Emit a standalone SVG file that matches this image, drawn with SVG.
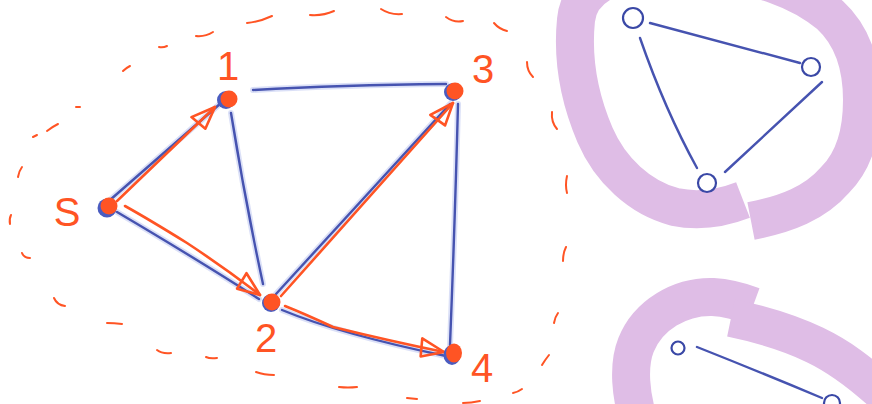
<svg xmlns="http://www.w3.org/2000/svg" width="872" height="404" viewBox="0 0 872 404">
  <style>
    .bg { fill: #ffffff; }
    .halo { fill: none; stroke: #c3cbf2; stroke-width: 6; stroke-linecap: round; opacity: 0.6; }
    .edge { fill: none; stroke: #4653b0; stroke-width: 2.4; stroke-linecap: round; }
    .arrow { fill: none; stroke: #ff5424; stroke-width: 2.6; stroke-linecap: round; stroke-linejoin: round; marker-end: url(#head); }
    .dash { fill: none; stroke: #ff5424; stroke-width: 2; stroke-linecap: round; }
    .dot { fill: #ff5424; }
    .dotrim { fill: #4a5cc0; }
    .lbl { font-family: "Liberation Sans", Arial, sans-serif; font-size: 40px; fill: #ff5424; text-anchor: middle; }
    .ring { fill: none; stroke: #dfbde6; stroke-width: 38; stroke-linecap: butt; }
    .hollow { fill: #ffffff; stroke: #3a48a6; stroke-width: 2.2; }
  </style>
  <defs>
    <marker id="head" markerUnits="userSpaceOnUse" viewBox="-30 -15 34 30" markerWidth="34" markerHeight="30" refX="0" refY="0" orient="auto">
      <path d="M0,0 L-24,-9 L-22,9 Z" fill="none" stroke="#ff5424" stroke-width="2.6" stroke-linejoin="round"/>
    </marker>
  </defs>
  <rect class="bg" x="0" y="0" width="872" height="404"/>

  <!-- dashed ellipse boundary -->
  <g id="boundary">
    <path class="dash" d="M10,224 Q9,219 11,215"/>
    <path class="dash" d="M18,177 Q19,171 22,167"/>
    <path class="dash" d="M33,137 L37,135"/>
    <path class="dash" d="M47,131 Q52,127 58,124"/>
    <path class="dash" d="M76,107 L80,107"/>
    <path class="dash" d="M123,71 Q126,68 130,66"/>
    <path class="dash" d="M159,47 Q163,48 167,46"/>
    <path class="dash" d="M196,36 Q205,37 213,32"/>
    <path class="dash" d="M247,23 Q259,22 272,16"/>
    <path class="dash" d="M310,15 Q323,16 334,11"/>
    <path class="dash" d="M381,9 Q390,15 402,14"/>
    <path class="dash" d="M446,17 Q454,23 463,21"/>
    <path class="dash" d="M494,23 Q499,29 507,31"/>
    <path class="dash" d="M527,62 Q527,71 533,77"/>
    <path class="dash" d="M552,112 Q551,122 557,129"/>
    <path class="dash" d="M567,176 Q565,185 567,193"/>
    <path class="dash" d="M566,247 Q563,253 563,261"/>
    <path class="dash" d="M558,313 Q555,317 554,323"/>
    <path class="dash" d="M549,355 Q545,360 542,365"/>
    <path class="dash" d="M522,389 Q518,392 513,393"/>
    <path class="dash" d="M480,401 Q471,403 463,403"/>
    <path class="dash" d="M417,399 L407,398"/>
    <path class="dash" d="M357,387 Q348,388 339,387"/>
    <path class="dash" d="M274,375 Q264,375 256,372"/>
    <path class="dash" d="M217,358 Q210,359 206,357"/>
    <path class="dash" d="M171,353 Q162,354 157,350"/>
    <path class="dash" d="M122,324 Q114,323 107,323"/>
    <path class="dash" d="M65,306 Q57,305 54,298"/>
    <path class="dash" d="M30,258 Q24,258 22,253"/>
  </g>

  <!-- purple clusters (drawn directly) -->
  <g id="clusters">
    <path class="ring" d="M743,200 C725,207 700,212 675,207 C640,198 610,170 595,135 C580,100 572,60 576,20 C580,-25 640,-35 700,-30 C760,-25 800,-10 830,15 C855,38 862,70 862,100 C862,140 850,165 835,180 C815,203 787,214 751,221"/>
    <path class="ring" d="M640,425 C630,395 628,365 636,345 C648,315 680,296 713,297 C730,298 742,302 753,306"/>
    <path class="ring" d="M731,318 C760,324 790,333 815,345 C840,357 860,372 885,395"/>
  </g>

  <!-- connectors -->
  <g id="connectors">
    <path class="halo" d="M253,90 Q340,85 446,84"/>
    <path class="edge" d="M253,90 Q340,85 446,84"/>
    <path class="halo" d="M231,113 Q245,200 263,284"/>
    <path class="edge" d="M231,113 Q245,200 263,284"/>
    <path class="halo" d="M110,200 L221,103"/>
    <path class="edge" d="M110,200 L221,103"/>
    <path class="halo" d="M117,212 Q195,258 259,299"/>
    <path class="edge" d="M117,212 Q195,258 259,299"/>
    <path class="halo" d="M276,294 L450,104"/>
    <path class="edge" d="M276,294 L450,104"/>
    <path class="halo" d="M458,104 Q455,220 450,345"/>
    <path class="edge" d="M458,104 Q455,220 450,345"/>
    <path class="halo" d="M282,310 Q340,334 446,356"/>
    <path class="edge" d="M282,310 Q340,334 446,356"/>

    <path class="arrow" d="M117,201 L215,107"/>
    <path class="arrow" d="M125,206 Q150,220 187,243 Q225,268 260,295"/>
    <path class="arrow" d="M281,296 L453,103"/>
    <path class="arrow" d="M285,306 Q305,314 333,327 Q390,341 444,352"/>

    <path class="edge" d="M650,23 Q745,48 800,63"/>
    <path class="edge" d="M640,38 Q665,110 697,168"/>
    <path class="edge" d="M822,82 L725,172"/>
    <path class="edge" d="M697,347 Q760,372 822,398"/>
  </g>

  <!-- main graph nodes -->
  <g id="node-s">
    <circle class="dotrim" cx="107" cy="208" r="9.5"/>
    <circle class="dot" cx="109" cy="206" r="8.5"/>
    <text class="lbl" x="67" y="226">S</text>
  </g>
  <g id="node-1">
    <circle class="dotrim" cx="226" cy="100" r="9"/>
    <circle class="dot" cx="229" cy="99" r="8.5"/>
    <text class="lbl" x="228" y="80">1</text>
  </g>
  <g id="node-2">
    <circle class="dotrim" cx="271" cy="303" r="9"/>
    <circle class="dot" cx="272" cy="302" r="8.5"/>
    <text class="lbl" x="266" y="352">2</text>
  </g>
  <g id="node-3">
    <circle class="dotrim" cx="453" cy="92" r="9"/>
    <circle class="dot" cx="455" cy="91" r="8.5"/>
    <text class="lbl" x="483" y="83">3</text>
  </g>
  <g id="node-4">
    <ellipse class="dotrim" cx="452" cy="355" rx="8.5" ry="10"/>
    <ellipse class="dot" cx="454" cy="353" rx="8" ry="9.5"/>
    <text class="lbl" x="482" y="382">4</text>
  </g>

  <!-- cluster nodes -->
  <g id="node-a"><circle class="hollow" cx="633" cy="18" r="10"/></g>
  <g id="node-b"><circle class="hollow" cx="811" cy="67" r="9"/></g>
  <g id="node-c"><circle class="hollow" cx="707" cy="183" r="9"/></g>
  <g id="node-d"><circle class="hollow" cx="678" cy="348" r="6.5"/></g>
  <g id="node-e"><circle class="hollow" cx="832" cy="403" r="8"/></g>
</svg>
